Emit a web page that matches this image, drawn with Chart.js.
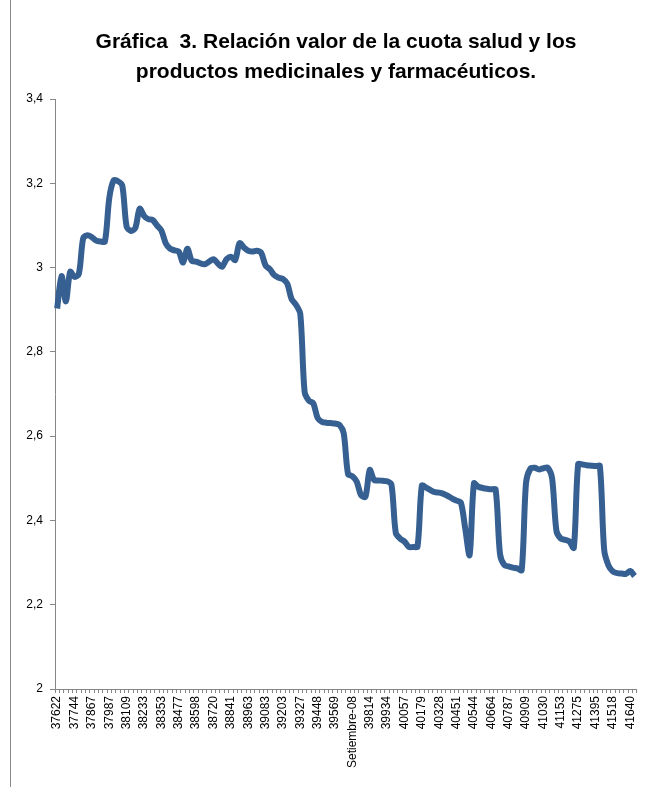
<!DOCTYPE html>
<html>
<head>
<meta charset="utf-8">
<script src="https://cdn.jsdelivr.net/npm/chart.js@4.4.1/dist/chart.umd.min.js"></script>
<style>
  html, body { margin: 0; padding: 0; background: #fff; }
  #wrap { position: relative; width: 652px; height: 787px; }
  #frame { position: absolute; left: 10px; top: 0; width: 1px; height: 787px; background: #8c8c8c; }
  canvas { position: absolute; left: 0; top: 0; }
</style>
</head>
<body>
<div id="wrap">
  <div id="frame"></div>
  <canvas id="myChart" width="652" height="787"></canvas>
</div>
<script>
// tick labels shown every 4th month (Excel serial dates, one odd label)
const tickLabels = ['37622', '37744', '37867', '37987', '38109', '38233', '38353', '38477',
  '38598', '38720', '38841', '38963', '39083', '39203', '39327', '39448', '39569',
  'Setiembre-08', '39814', '39934', '40057', '40179', '40328', '40451', '40544',
  '40664', '40787', '40909', '41030', '41153', '41275', '41395', '41518', '41640'];

// monthly ratio, Jan 2003 .. Feb 2014
const ratio = [
  2.903, 2.98, 2.92, 2.99, 2.978, 2.985, 3.07, 3.077, 3.072, 3.064,
  3.062, 3.062, 3.165, 3.207, 3.205, 3.195, 3.097, 3.087, 3.094, 3.14,
  3.123, 3.115, 3.113, 3.1, 3.088, 3.058, 3.045, 3.041, 3.038, 3.012,
  3.045, 3.016, 3.014, 3.01, 3.008, 3.014, 3.02, 3.01, 3.002, 3.02,
  3.026, 3.018, 3.058, 3.048, 3.04, 3.038, 3.04, 3.035, 3.005, 2.996,
  2.982, 2.976, 2.973, 2.962, 2.925, 2.912, 2.89, 2.705, 2.684, 2.678,
  2.643, 2.634, 2.632, 2.631, 2.63, 2.627, 2.607, 2.51, 2.505, 2.492,
  2.46, 2.456, 2.52, 2.496, 2.495, 2.494, 2.493, 2.485, 2.37, 2.357,
  2.35, 2.337, 2.337, 2.338, 2.483, 2.478, 2.472, 2.467, 2.466, 2.463,
  2.458, 2.452, 2.447, 2.442, 2.38, 2.318, 2.488, 2.48, 2.477, 2.475,
  2.474, 2.473, 2.32, 2.294, 2.291, 2.288, 2.286, 2.282, 2.49, 2.523,
  2.525, 2.521, 2.524, 2.525, 2.5, 2.375, 2.357, 2.354, 2.35, 2.335,
  2.533, 2.533, 2.531, 2.53, 2.529, 2.529, 2.33, 2.293, 2.279, 2.275,
  2.274, 2.273, 2.28, 2.268
];

const yTicks = [2, 2.2, 2.4, 2.6, 2.8, 3, 3.2, 3.4];

// one category per month, label only on every 4th
const labels = ratio.map((v, i) => (i % 4 === 0 && tickLabels[i / 4]) ? tickLabels[i / 4] : '');

const axisGrey = '#868686';

var ctx = document.getElementById('myChart');
var myChart = new Chart(ctx, {
  type: 'line',
  data: {
    labels: labels,
    datasets: [{
      data: ratio,
      borderColor: '#376092',
      borderWidth: 6,
      pointRadius: 0,
      tension: 0.3,
      fill: false
    }]
  },
  options: {
    responsive: false,
    animation: false,
    layout: { padding: { left: 22, right: 2, top: 0, bottom: 0 } },
    plugins: {
      legend: { display: false },
      tooltip: { enabled: false },
      title: {
        display: true,
        text: ['Gráfica  3. Relación valor de la cuota salud y los',
               'productos medicinales y farmacéuticos.'],
        color: '#000',
        font: { family: 'Liberation Sans', size: 21, weight: 'bold', lineHeight: 1.43 },
        padding: { top: 27, bottom: 12 }
      }
    },
    scales: {
      x: {
        offset: true,
        grid: { display: true, drawOnChartArea: false, offset: true, tickLength: 4, color: axisGrey },
        border: { color: axisGrey },
        ticks: {
          autoSkip: false,
          maxRotation: 90,
          minRotation: 90,
          padding: 3,
          color: '#000',
          font: { family: 'Liberation Sans', size: 12 },
          callback: function(v) { return this.getLabelForValue(v); }
        },
        afterFit: function(s) { s.height = 98; }
      },
      y: {
        min: 2,
        max: 3.4,
        afterBuildTicks: function(s) { s.ticks = yTicks.map(v => ({ value: v })); },
        grid: { display: true, drawOnChartArea: false, tickLength: 5, color: axisGrey },
        border: { color: axisGrey },
        ticks: {
          padding: 7,
          color: '#000',
          font: { family: 'Liberation Sans', size: 12 },
          callback: function(v) { return String(Number(v.toFixed(1))).replace('.', ','); }
        },
        afterFit: function(s) { s.width = 33; }
      }
    }
  }
});
</script>
</body>
</html>
